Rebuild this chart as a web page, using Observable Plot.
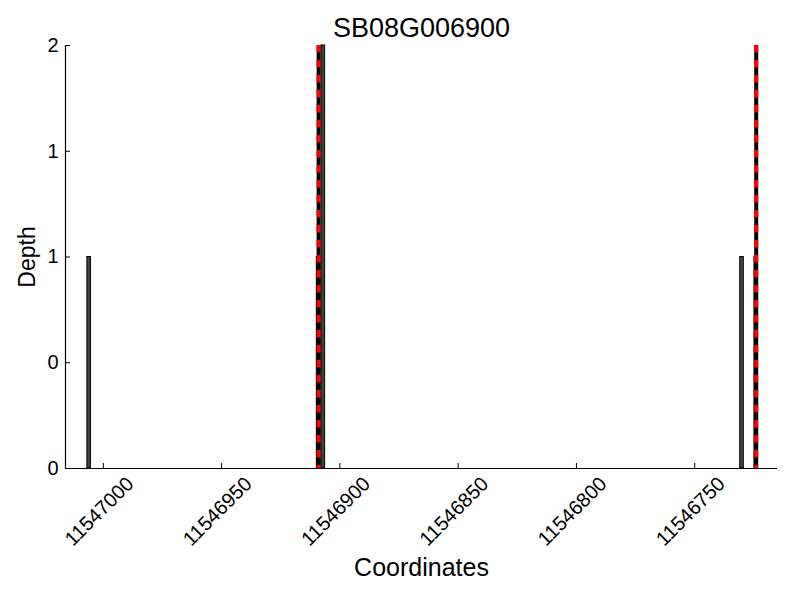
<!DOCTYPE html>
<html>
<head>
<meta charset="utf-8">
<script src="https://cdn.jsdelivr.net/npm/d3@7"></script>
<script src="https://cdn.jsdelivr.net/npm/@observablehq/plot@0.6"></script>
<style>
  html, body { margin: 0; padding: 0; background: #fff; }
  svg { font-family: "Liberation Sans", Arial, sans-serif; }
</style>
</head>
<body>
<div id="chart"></div>
<script>
const title = "SB08G006900";
const xLabel = "Coordinates";
const yLabel = "Depth";
const positions = [11547006, 11546909, 11546907, 11546730, 11546724];
const depths = [1, 1, 2, 1, 1];
const markerPositions = [11546909, 11546724];
const xDomain = [11547016, 11546715];
const xTicks = [11547000, 11546950, 11546900, 11546850, 11546800, 11546750];
const yTicks = [0, 0.5, 1, 1.5, 2];
const yTickLabels = ["0", "0", "1", "1", "2"];

const bars = positions.map((p, i) => ({pos: p, depth: depths[i]}));

const plot = Plot.plot({
  width: 800,
  height: 600,
  marginLeft: 65,
  marginRight: 23,
  marginTop: 45,
  marginBottom: 132,
  style: {fontFamily: "Liberation Sans, Arial, sans-serif", background: "white"},
  x: {domain: xDomain, label: null},
  y: {domain: [0, 2], label: null},
  marks: [
    Plot.rectY(bars, {x1: d => d.pos - 0.75, x2: d => d.pos + 0.75, y1: 0, y2: "depth", fill: "#444", stroke: "black", strokeWidth: 1}),
    Plot.ruleX(markerPositions, {stroke: "black", strokeWidth: 4}),
    Plot.ruleX(markerPositions, {stroke: "#ff0000", strokeWidth: 4, strokeDasharray: "7.5,7.5"}),
    Plot.ruleY([0], {stroke: "black", strokeWidth: 1.2}),
    Plot.ruleX([xDomain[0]], {stroke: "black", strokeWidth: 1.2}),
    // inward ticks
    Plot.axisY({ticks: yTicks, tickSize: 5, dx: 5, tickFormat: () => "", label: null, color: "black"}),
    Plot.axisX({ticks: xTicks, tickSize: 5, dy: -5, tickFormat: () => "", label: null, color: "black"}),
    // tick labels
    Plot.axisY({ticks: yTicks, tickSize: 0, tickPadding: 7, tickFormat: (d, i) => yTickLabels[i], fontSize: 20, label: null, color: "black"}),
    Plot.axisX({ticks: xTicks, tickSize: 0, tickPadding: 0, tickFormat: d => String(d), fontSize: 20, label: null,
      tickRotate: -45, textAnchor: "middle", lineAnchor: "middle", dy: 43, dx: -4, color: "black"}),
    Plot.text([title], {frameAnchor: "top", dy: -28, fontSize: 27, fill: "black"}),
    Plot.text([xLabel], {frameAnchor: "bottom", dy: 107, fontSize: 25, fill: "black"}),
    Plot.text([yLabel], {frameAnchor: "left", dx: -38, rotate: -90, textAnchor: "middle", fontSize: 23, fill: "black"})
  ]
});
document.getElementById("chart").appendChild(plot);
</script>
</body>
</html>
